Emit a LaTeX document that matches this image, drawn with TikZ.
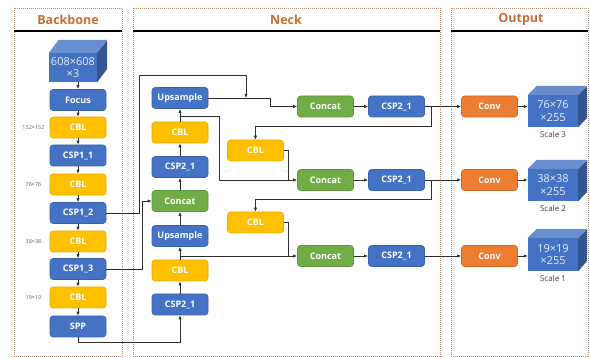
\documentclass[tikz,border=0pt]{standalone}
\usepackage{fontspec}
\setmainfont{Open Sans}
\usetikzlibrary{arrows.meta}
\definecolor{cblue}{RGB}{68,114,196}
\definecolor{cgold}{RGB}{255,192,0}
\definecolor{cgreen}{RGB}{112,173,71}
\definecolor{corange}{RGB}{237,125,49}
\definecolor{ctitle}{RGB}{197,110,55}
\definecolor{cframe}{RGB}{190,140,110}
\definecolor{cline}{RGB}{45,45,45}
\tikzset{
  box/.style={rounded corners=3pt, minimum width=56pt, minimum height=21pt,
    inner sep=0pt, text=white, font=\fontsize{9}{10}\selectfont\bfseries, line width=0.6pt},
  bluebox/.style={box, fill=cblue, draw=cblue!85!black},
  goldbox/.style={box, fill=cgold, draw=cgold!90!black},
  greenbox/.style={box, fill=cgreen, draw=cgreen!85!black},
  orangebox/.style={box, fill=corange, draw=corange!85!black},
  cubefront/.style={fill=cblue, inner sep=0pt, text=white!88!cblue, align=center,
    font=\fontsize{11}{12.5}\selectfont},
  cubetop/.style={fill=cblue!80!white},
  cubeside/.style={fill=cblue!75!black},
  panel/.style={draw=cframe, line width=0.6pt, dash pattern=on 1pt off 1pt},
  headline/.style={line width=1.6pt, black},
  heading/.style={text=ctitle, font=\fontsize{12.5}{14}\selectfont\bfseries},
  sizelabel/.style={text=black!60, font=\fontsize{5.5}{6}\selectfont},
  scalelabel/.style={text=black!75, font=\fontsize{8}{9}\selectfont},
  arr/.style={cline, line width=0.7pt, -{Latex[length=4pt,width=3.2pt]}},
  link/.style={cline, line width=0.7pt},
}
\begin{document}
\begin{tikzpicture}[x=1pt,y=-1pt]
\useasboundingbox (0,0) rectangle (590,358);
\fill[white] (0,0) rectangle (590,358);

% ---------- panels ----------
\draw[panel] (14,8) rectangle (122,356);
\draw[panel] (133,8) rectangle (440,356);
\draw[panel] (451,8) rectangle (588,356);
\draw[headline] (14,31) -- (122,31);
\draw[headline] (133,31) -- (440,31);
\draw[headline] (451,31) -- (588,31);
\node[heading] (hb) at (68,19.5) {Backbone};
\node[heading] (hn) at (286,19.5) {Neck};
\node[heading] (ho) at (521,19.5) {Output};

% ---------- backbone ----------
\node[cubefront, minimum width=48pt, minimum height=29pt] (inp) at (73,67.5) {608×608\\×3};
\fill[cubetop] (inp.north west) -- ++(10,-13) -- ++(48,0) -- (inp.north east) -- cycle;
\fill[cubeside] (inp.north east) -- ++(10,-13) -- ++(0,29) -- (inp.south east) -- cycle;

\node[bluebox] (focus) at (78,100) {Focus};
\node[goldbox] (bcbl1) at (78,127.5) {CBL};
\node[bluebox] (csp11) at (78,155.5) {CSP1\_1};
\node[goldbox] (bcbl2) at (78,184.5) {CBL};
\node[bluebox] (csp12) at (78,213) {CSP1\_2};
\node[goldbox] (bcbl3) at (78,241.5) {CBL};
\node[bluebox] (csp13) at (78,269) {CSP1\_3};
\node[goldbox] (bcbl4) at (78,297.5) {CBL};
\node[bluebox] (spp) at (78,326.5) {SPP};

\node[sizelabel] (s152) at (33.5,127.5) {152×152};
\node[sizelabel] (s76) at (33.5,184.5) {76×76};
\node[sizelabel] (s38) at (33.5,241.5) {38×38};
\node[sizelabel] (s19) at (33.5,297.5) {19×19};

\draw[arr] (focus.north |- inp.south) -- (focus.north);
\draw[arr] (focus) -- (bcbl1);
\draw[arr] (bcbl1) -- (csp11);
\draw[arr] (csp11) -- (bcbl2);
\draw[arr] (bcbl2) -- (csp12);
\draw[arr] (csp12) -- (bcbl3);
\draw[arr] (bcbl3) -- (csp13);
\draw[arr] (csp13) -- (bcbl4);
\draw[arr] (bcbl4) -- (spp);

% ---------- neck, first column ----------
\node[bluebox] (ups1) at (180,98) {Upsample};
\node[goldbox] (ncbla) at (180,132.5) {CBL};
\node[bluebox] (ncspa) at (180,167) {CSP2\_1};
\node[greenbox] (ncat) at (180,201) {Concat};
\node[bluebox] (ups2) at (180,236) {Upsample};
\node[goldbox] (ncblb) at (180,270.5) {CBL};
\node[bluebox] (ncspb) at (180,304.5) {CSP2\_1};

\draw[arr] (ncspb) -- (ncblb);
\draw[arr] (ncblb) -- (ups2);
\draw[arr] (ups2) -- (ncat);
\draw[arr] (ncat) -- (ncspa);
\draw[arr] (ncspa) -- (ncbla);
\draw[arr] (ncbla) -- (ups1);

% ---------- neck, second column ----------
\node[goldbox] (ncblc) at (255.5,150.5) {CBL};
\node[goldbox] (ncbld) at (255.5,222.5) {CBL};

% ---------- neck, right rows ----------
\node[greenbox] (cat1) at (325.5,106.5) {Concat};
\node[bluebox] (cspr1) at (396.5,106.5) {CSP2\_1};
\node[greenbox] (cat2) at (325.5,180) {Concat};
\node[bluebox] (cspr2) at (396.5,180) {CSP2\_1};
\node[greenbox] (cat3) at (325.5,256) {Concat};
\node[bluebox] (cspr3) at (396.5,256) {CSP2\_1};

\draw[arr] (cat1) -- (cspr1);
\draw[arr] (cat2) -- (cspr2);
\draw[arr] (cat3) -- (cspr3);

% ---------- output ----------
\node[orangebox] (conv1) at (489.5,106.5) {Conv};
\node[orangebox] (conv2) at (489.5,180) {Conv};
\node[orangebox] (conv3) at (489.5,256) {Conv};

\node[cubefront, minimum width=50pt, minimum height=32pt] (out1) at (553,111) {76×76\\×255};
\node[cubefront, minimum width=50pt, minimum height=32pt] (out2) at (553,185) {38×38\\×255};
\node[cubefront, minimum width=50pt, minimum height=33pt] (out3) at (553,254.5) {19×19\\×255};
\foreach \c in {out1,out2,out3}{
  \fill[cubetop] (\c.north west) -- ++(9,-9) -- ++(50,0) -- (\c.north east) -- cycle;
  \fill[cubeside] (\c.north east) -- ++(9,-9) -- ++(0,32) -- (\c.south east) -- cycle;
}
\node[scalelabel] (sc3) at (553,135) {Scale 3};
\node[scalelabel] (sc2) at (553,209) {Scale 2};
\node[scalelabel] (sc1) at (553,278.5) {Scale 1};

\draw[arr] (cspr1) -- (conv1);
\draw[arr] (cspr2) -- (conv2);
\draw[arr] (cspr3) -- (conv3);
\draw[arr] (conv1.east) -- (conv1.east -| out1.west);
\draw[arr] (conv2.east) -- (conv2.east -| out2.west);
\draw[arr] (conv3.east) -- (conv3.east -| out3.west);

% ---------- cross connections ----------
\coordinate (m1) at (246,98);
\draw[arr] (csp12.east) -- (139,213) -- (139,75) -| (m1);
\draw[arr] (ups1.east) -- (270,98) |- (cat1.west);

\draw[arr] (csp13.east) -- (142,269) |- (ncat.west);
\draw[arr] (spp.south) -- ++(0,5.5) -| (ncspb.south);

\coordinate (j1) at (180,116.5);
\draw[arr] (j1) -- (219,116.5) |- (cat2.west);
\draw[link] (ncblc.east) -- (288,150.5) -- (288,180);

\coordinate (j2) at (180,256);
\draw[arr] (j2) -- (cat3.west);
\draw[link] (ncbld.east) -- (288,222.5) -- (288,256);

\coordinate (b1) at (431,106.5);
\draw[arr] (b1) -- (431,126) -| (ncblc.north);
\coordinate (b2) at (431,180);
\draw[arr] (b2) -- (431,199) -| (ncbld.north);
\end{tikzpicture}
\end{document}
